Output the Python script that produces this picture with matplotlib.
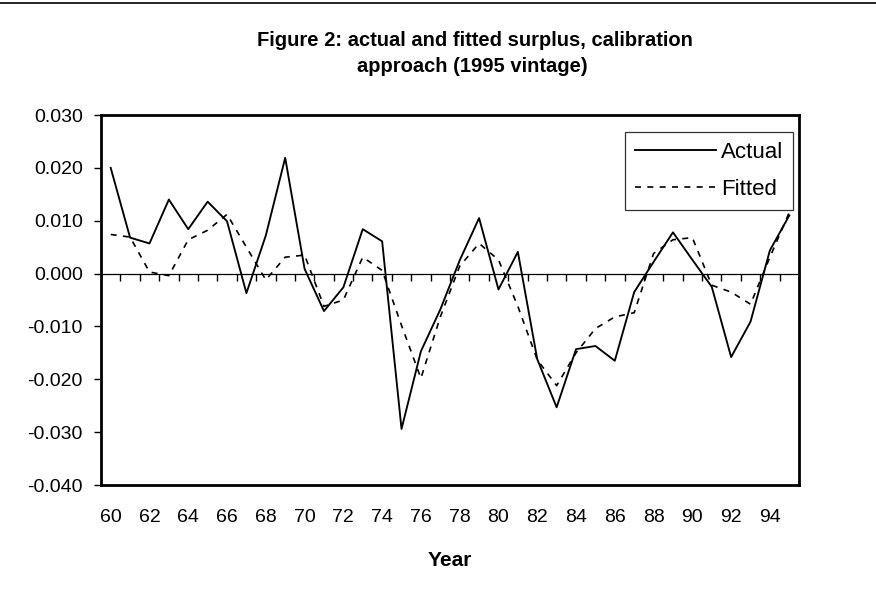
import matplotlib
matplotlib.use("Agg")
import matplotlib.pyplot as plt
import numpy as np
from matplotlib.lines import Line2D

plt.rcParams['font.family'] = ['Liberation Sans', 'DejaVu Sans']

years = list(range(60, 96))
actual = [0.0200, 0.0068, 0.0057, 0.0140, 0.0084, 0.0136, 0.0099, -0.0037, 0.0072, 0.0219,
          0.0009, -0.0071, -0.0026, 0.0084, 0.0061, -0.0294, -0.0147, -0.0068, 0.0025, 0.0105,
          -0.0030, 0.0041, -0.0162, -0.0253, -0.0143, -0.0137, -0.0165, -0.0035, 0.0022, 0.0078,
          0.0026, -0.0025, -0.0158, -0.0091, 0.0044, 0.0110]
fitted = [0.0074, 0.0069, 0.0003, -0.0004, 0.0064, 0.0082, 0.0112, 0.0050, -0.0012, 0.0031,
          0.0035, -0.0062, -0.0050, 0.0031, 0.0006, -0.0098, -0.0198, -0.0082, 0.0014, 0.0057,
          0.0026, -0.0062, -0.0163, -0.0212, -0.0150, -0.0104, -0.0082, -0.0074, 0.0038, 0.0064,
          0.0068, -0.0022, -0.0035, -0.0058, 0.0031, 0.0116]
xlabels = [str(y) for y in years[::2]]
yticks = [-0.040, -0.030, -0.020, -0.010, 0.000, 0.010, 0.020, 0.030]

W, H = 876, 597
fig = plt.figure(figsize=(W/100, H/100), dpi=100)
ax = fig.add_axes([101/W, 1-485/H, 698/W, 370/H])

x = np.arange(len(years))
ax.plot(x, actual, color='black', lw=1.35, label='Actual')
ax.plot(x, fitted, color='black', lw=1.2, linestyle=(0, (3.6, 3.8)), label='Fitted')

ax.set_xlim(-0.5, len(years) - 0.5)
ax.set_ylim(-0.040, 0.030)
ax.set_yticks(yticks)
ax.set_yticklabels([f"{v:.3f}" for v in yticks], fontsize=14)
ax.tick_params(axis='y', direction='out', length=5, width=1, pad=8)

# zero-line axis with category boundary ticks
ax.spines['bottom'].set_position(('data', 0))
ax.spines['bottom'].set_linewidth(0.9)
ax.set_xticks([])
ax.set_xticks(np.arange(0.5, len(years) - 1), minor=True)
ax.tick_params(axis='x', which='minor', direction='out', length=5, width=1, labelbottom=False)

for s in ['left', 'right', 'top']:
    ax.spines[s].set_linewidth(2)

sec = ax.secondary_xaxis('bottom')
sec.set_xticks(x[::2])
sec.set_xticklabels(xlabels, fontsize=14)
sec.tick_params(length=0, pad=17.5)
sec.spines['bottom'].set_linewidth(2)
sec.set_xlabel('Year', fontsize=15, fontweight='bold', labelpad=17.5)

leg = ax.legend(loc='upper left', bbox_to_anchor=(625/W, 1-131.7/H), bbox_transform=fig.transFigure,
                frameon=True, fancybox=False, fontsize=16, handlelength=3.65,
                borderpad=0.45, labelspacing=0.72, handletextpad=0.22, borderaxespad=0)
leg.get_frame().set_edgecolor('black')
leg.get_frame().set_linewidth(0.9)

fig.text(475/W, 1-41/H, 'Figure 2: actual and fitted surplus, calibration', ha='center', va='center',
         fontsize=14.5, fontweight='bold')
fig.text(472/W, 1-67/H, 'approach (1995 vintage)', ha='center', va='center',
         fontsize=14.5, fontweight='bold')

fig.add_artist(Line2D([0, 1], [1-2.5/H, 1-2.5/H], transform=fig.transFigure, color='black', lw=1.2))

fig.savefig('out.png', dpi=100)
